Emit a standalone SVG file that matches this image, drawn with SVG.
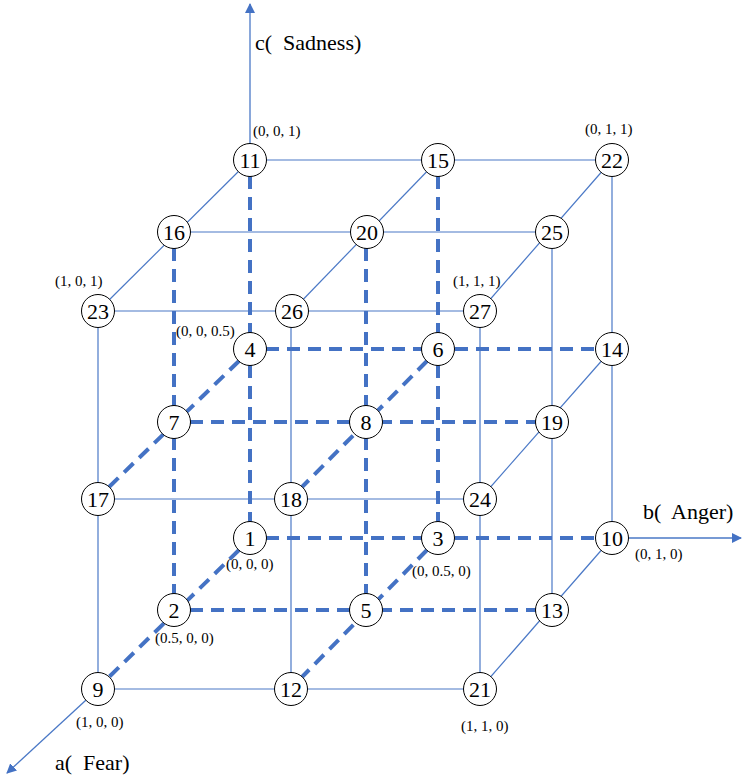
<svg xmlns="http://www.w3.org/2000/svg" width="742" height="777" viewBox="0 0 742 777">
<style>
.s{stroke:#4a78c6;stroke-width:1.2;fill:none}
.d{stroke:#4472C4;stroke-width:4;fill:none;stroke-dasharray:13 8}
.ax{stroke:#4a78c6;stroke-width:1.3;fill:none}
.n circle{fill:#fff;stroke:#000;stroke-width:1}
.n text{font-family:"Liberation Serif",serif;font-size:22px;text-anchor:middle;fill:#000}
.l{font-family:"Liberation Serif",serif;font-size:15px;fill:#000}
.t{font-family:"Liberation Serif",serif;font-size:22px;fill:#000}
</style>
<defs>
<marker id="ar" markerWidth="10" markerHeight="10" refX="9" refY="5" orient="auto" markerUnits="userSpaceOnUse">
<path d="M0,0 L10,5 L0,10 Z" fill="#4472C4"/>
</marker>
</defs>
<g id="connectors">
<line class="ax" x1="250" y1="160" x2="250" y2="4" marker-end="url(#ar)"/>
<line class="ax" x1="612" y1="538" x2="741" y2="538" marker-end="url(#ar)"/>
<line class="ax" x1="98" y1="689" x2="7" y2="773" marker-end="url(#ar)"/>
<polyline class="s" points="250,160 438,160 612,160"/>
<polyline class="s" points="174,232 367,232 552,232"/>
<polyline class="s" points="98,311 292,311 480,311"/>
<polyline class="s" points="98,499 291,499 480,499"/>
<polyline class="s" points="98,689 291,689 480,689"/>
<line class="s" x1="250" y1="160" x2="98" y2="311"/>
<line class="s" x1="438" y1="160" x2="292" y2="311"/>
<line class="s" x1="612" y1="160" x2="480" y2="311"/>
<line class="s" x1="612" y1="349" x2="480" y2="499"/>
<line class="s" x1="612" y1="538" x2="480" y2="689"/>
<line class="s" x1="612" y1="160" x2="612" y2="538"/>
<line class="s" x1="552" y1="232" x2="552" y2="610"/>
<line class="s" x1="480" y1="311" x2="480" y2="689"/>
<line class="s" x1="291" y1="311" x2="291" y2="689"/>
<line class="s" x1="98" y1="311" x2="98" y2="689"/>
<line class="d" x1="250" y1="176" x2="250" y2="522"/>
<line class="d" x1="438" y1="176" x2="438" y2="522"/>
<line class="d" x1="174" y1="248" x2="174" y2="594"/>
<line class="d" x1="366" y1="248" x2="366" y2="594"/>
<line class="d" x1="266" y1="349" x2="596" y2="349"/>
<line class="d" x1="190" y1="422" x2="536" y2="422"/>
<line class="d" x1="266" y1="538" x2="596" y2="538"/>
<line class="d" x1="190" y1="610" x2="536" y2="610"/>
<line class="d" x1="239" y1="361" x2="109" y2="487"/>
<line class="d" x1="427" y1="361" x2="302" y2="487"/>
<line class="d" x1="239" y1="550" x2="109" y2="677"/>
<line class="d" x1="427" y1="550" x2="302" y2="677"/>
</g>
<g id="n11" class="n"><circle cx="250" cy="160" r="16.5"/><text x="250" y="167.5">11</text></g>
<g id="n15" class="n"><circle cx="438" cy="160" r="16.5"/><text x="438" y="167.5">15</text></g>
<g id="n22" class="n"><circle cx="612" cy="160" r="16.5"/><text x="612" y="167.5">22</text></g>
<g id="n16" class="n"><circle cx="174" cy="232" r="16.5"/><text x="174" y="239.5">16</text></g>
<g id="n20" class="n"><circle cx="367" cy="232" r="16.5"/><text x="367" y="239.5">20</text></g>
<g id="n25" class="n"><circle cx="552" cy="232" r="16.5"/><text x="552" y="239.5">25</text></g>
<g id="n23" class="n"><circle cx="98" cy="311" r="16.5"/><text x="98" y="318.5">23</text></g>
<g id="n26" class="n"><circle cx="292" cy="311" r="16.5"/><text x="292" y="318.5">26</text></g>
<g id="n27" class="n"><circle cx="480" cy="311" r="16.5"/><text x="480" y="318.5">27</text></g>
<g id="n4" class="n"><circle cx="250" cy="349" r="16.5"/><text x="250" y="356.5">4</text></g>
<g id="n6" class="n"><circle cx="438" cy="349" r="16.5"/><text x="438" y="356.5">6</text></g>
<g id="n14" class="n"><circle cx="612" cy="349" r="16.5"/><text x="612" y="356.5">14</text></g>
<g id="n7" class="n"><circle cx="174" cy="422" r="16.5"/><text x="174" y="429.5">7</text></g>
<g id="n8" class="n"><circle cx="366" cy="422" r="16.5"/><text x="366" y="429.5">8</text></g>
<g id="n19" class="n"><circle cx="552" cy="422" r="16.5"/><text x="552" y="429.5">19</text></g>
<g id="n17" class="n"><circle cx="98" cy="499" r="16.5"/><text x="98" y="506.5">17</text></g>
<g id="n18" class="n"><circle cx="291" cy="499" r="16.5"/><text x="291" y="506.5">18</text></g>
<g id="n24" class="n"><circle cx="480" cy="499" r="16.5"/><text x="480" y="506.5">24</text></g>
<g id="n1" class="n"><circle cx="250" cy="538" r="16.5"/><text x="250" y="545.5">1</text></g>
<g id="n3" class="n"><circle cx="438" cy="538" r="16.5"/><text x="438" y="545.5">3</text></g>
<g id="n10" class="n"><circle cx="612" cy="538" r="16.5"/><text x="612" y="545.5">10</text></g>
<g id="n2" class="n"><circle cx="174" cy="610" r="16.5"/><text x="174" y="617.5">2</text></g>
<g id="n5" class="n"><circle cx="366" cy="610" r="16.5"/><text x="366" y="617.5">5</text></g>
<g id="n13" class="n"><circle cx="552" cy="610" r="16.5"/><text x="552" y="617.5">13</text></g>
<g id="n9" class="n"><circle cx="98" cy="689" r="16.5"/><text x="98" y="696.5">9</text></g>
<g id="n12" class="n"><circle cx="291" cy="689" r="16.5"/><text x="291" y="696.5">12</text></g>
<g id="n21" class="n"><circle cx="480" cy="689" r="16.5"/><text x="480" y="696.5">21</text></g>
<g id="labels">
<text class="t" x="255" y="50" xml:space="preserve">c(  Sadness)</text>
<text class="t" x="643" y="519" xml:space="preserve">b(  Anger)</text>
<text class="t" x="55" y="770" xml:space="preserve">a(  Fear)</text>
<text class="l" x="253" y="136">(0, 0, 1)</text>
<text class="l" x="585" y="134">(0, 1, 1)</text>
<text class="l" x="55" y="286">(1, 0, 1)</text>
<text class="l" x="453" y="286">(1, 1, 1)</text>
<text class="l" x="176" y="336">(0, 0, 0.5)</text>
<text class="l" x="635" y="559">(0, 1, 0)</text>
<text class="l" x="226" y="569">(0, 0, 0)</text>
<text class="l" x="412" y="576">(0, 0.5, 0)</text>
<text class="l" x="155" y="643">(0.5, 0, 0)</text>
<text class="l" x="76" y="727">(1, 0, 0)</text>
<text class="l" x="461" y="731">(1, 1, 0)</text>
</g>
</svg>
